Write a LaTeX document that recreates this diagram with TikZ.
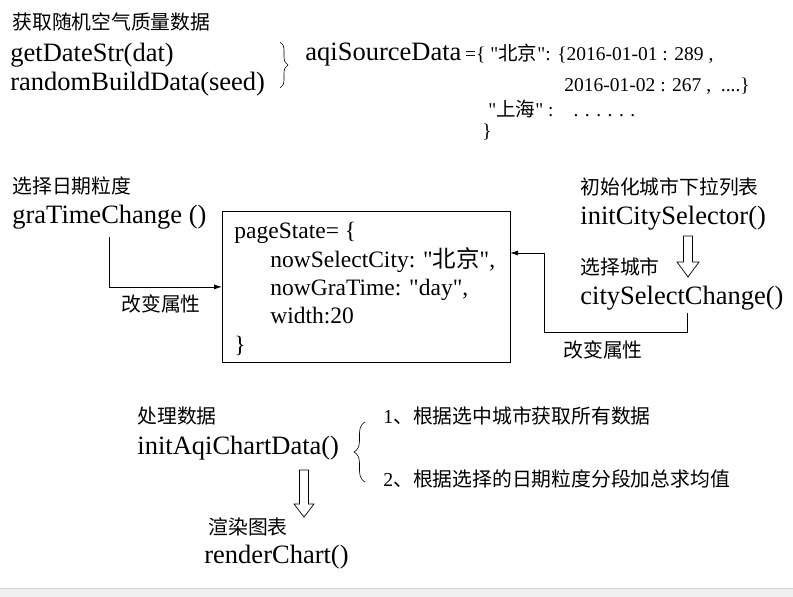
\documentclass[tikz,border=0pt]{standalone}
\usepackage{fontspec}
\setmainfont{Liberation Serif}
\newfontfamily\tnr{Liberation Serif}
\newfontfamily\cjk{Noto Sans CJK SC}
\usetikzlibrary{arrows.meta,decorations.pathreplacing}
\definecolor{barfill}{HTML}{F0F0F0}
\definecolor{barline}{HTML}{D4D4D4}

\begin{document}
\begin{tikzpicture}[x=1pt, y=-1pt, line width=0.8pt,
	note/.style={anchor=base west, inner sep=0pt, font=\cjk\fontsize{19.8}{22}\selectfont},
	func/.style={anchor=base west, inner sep=0pt, font=\tnr\fontsize{26.5}{28}\selectfont},
	data/.style={anchor=base west, inner sep=0pt, font=\tnr\fontsize{19.5}{22}\selectfont},
	field/.style={anchor=base west, inner sep=0pt, font=\tnr\fontsize{23.5}{26}\selectfont},
	arr/.style={-{Latex[length=8pt,width=5pt]}},
	hollow/.style={draw, line width=0.7pt, fill=white},
	curly/.style={decorate, decoration={brace, amplitude=#1}, line width=0.6pt}]
	
	\useasboundingbox (0,0) rectangle (793,597);
	\fill[barfill] (0,588) rectangle (793,597);
	\draw[barline] (0,588) -- (793,588);
	
	% random data
	\node[note] (srcnote) at (12,29) {获取随机空气质量数据};
	\node[func] (getdate) at (10,61) {getDateStr(dat)};
	\node[func] (randbuild) at (10,90) {randomBuildData(seed)};
	\draw[curly=8pt] (280,42) -- (280,88);
	\node[func] (aqi) at (305,60) {aqiSourceData};
	\node[data] (aqi1) at ([xshift=3pt]aqi.base east) {=\{ "{\cjk 北京}": \{2016-01-01 : 289 ,};
	\node[data] (aqi2) at (564,91) {2016-01-02 : 267 ,\ \ ....\}};
	\node[data] (aqi3) at (488,116) {"{\cjk 上海}" :\hspace{20pt}. . . . . .};
	\node[data] (aqi4) at (482,137) {\}};
	
	% page state
	\node[note] (granote) at (12,193) {选择日期粒度};
	\node[func] (gra) at (12,223) {graTimeChange ()};
	\node[draw, minimum width=288pt, minimum height=151pt, anchor=north west, inner sep=0pt] (state) at (222,211) {};
	\node[field] (f0) at (234,238) {pageState= \{};
	\node[field] (f1) at (270,267) {nowSelectCity: "{\cjk 北京}",};
	\node[field] (f2) at (270,295) {nowGraTime: "day",};
	\node[field] (f3) at (270,323) {width:20};
	\node[field] (f4) at (234,352) {\}};
	\node[note] (chg1) at (121,311) {改变属性};
	
	\node[note] (citynote) at (580,194) {初始化城市下拉列表};
	\node[func] (initcity) at (580,224) {initCitySelector()};
	\node[note] (selnote) at (580,274) {选择城市};
	\node[func] (city) at (580,304) {citySelectChange()};
	\node[note] (chg2) at (563,357) {改变属性};
	\coordinate (cbend) at (544,332);
	\coordinate (tipR) at (510,253);
	
	\draw[arr] ([yshift=-8pt]gra.south) |- (state.west);
	\draw[arr] ([xshift=5pt,yshift=-3pt]city.south) |- (cbend) |- (tipR);
	\draw[hollow] (683.5,236) -- (692.5,236) -- (692.5,262) -- (699,262) -- (688,277) -- (677,262) -- (683.5,262) -- cycle;
	
	% chart
	\node[note] (datanote) at (137,423) {处理数据};
	\node[func] (initaqi) at (137,454) {initAqiChartData()};
	\draw[curly=11pt] (365,482) -- (365,422);
	\node[note] (step1) at (383,423) {{\tnr 1}、根据选中城市获取所有数据};
	\node[note] (step2) at (383,486) {{\tnr 2}、根据选择的日期粒度分段加总求均值};
	\draw[hollow] (299.5,470) -- (308.5,470) -- (308.5,504) -- (314,504) -- (304,517) -- (294,504) -- (299.5,504) -- cycle;
	\node[note] (rendernote) at (208,534) {渲染图表};
	\node[func] (render) at (204,563) {renderChart()};
	
\end{tikzpicture}
\end{document}
